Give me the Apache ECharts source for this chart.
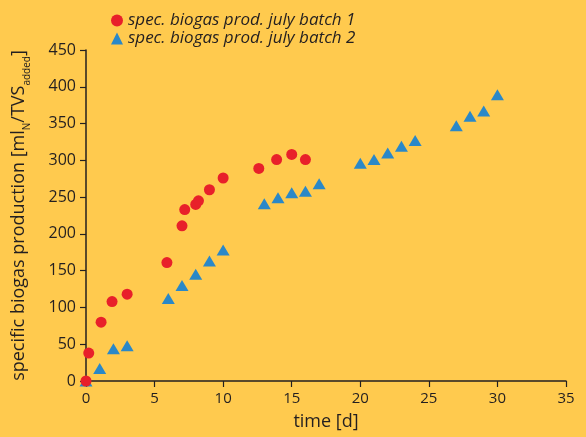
<!DOCTYPE html>
<html><head><meta charset="utf-8">
<script src="https://cdn.jsdelivr.net/npm/echarts@6/dist/echarts.min.js"></script>
<style>html,body{margin:0;padding:0;background:#FFCA4E;}#c{width:586px;height:437px;}</style>
</head><body><div id="c"></div>
<script>
const seriesNames = ['spec. biogas prod. july batch 1', 'spec. biogas prod. july batch 2'];
const batch1X = [0, 0.2, 1.1, 1.9, 3, 5.9, 7, 7.2, 8, 8.2, 9, 10, 12.6, 13.9, 15, 16];
const batch1Y = [0, 38, 80, 108, 118, 161, 211, 233, 240, 245, 260, 276, 289, 301, 308, 301];
const batch2X = [0, 1, 2, 3, 6, 7, 8, 9, 10, 13, 14, 15, 16, 17, 20, 21, 22, 23, 24, 27, 28, 29, 30];
const batch2Y = [0, 17, 44, 48, 112, 130, 145, 163, 178, 241, 249, 256, 258, 268, 296, 301, 310, 319, 327, 347, 360, 367, 389];
const xTicks = [0, 5, 10, 15, 20, 25, 30, 35];
const yTicks = [0, 50, 100, 150, 200, 250, 300, 350, 400, 450];

const ink = '#231F20';
const font = 'Open Sans';
const chart = echarts.init(document.getElementById('c'));
chart.setOption({
  backgroundColor: '#FFCA4E',
  animation: false,
  textStyle: { fontFamily: font, color: ink },
  grid: { left: 86, right: 20, top: 50, bottom: 56 },
  legend: {
    orient: 'vertical', left: 106, top: 7, itemGap: 1, itemWidth: 12, itemHeight: 12,
    textStyle: { fontFamily: font, fontStyle: 'italic', fontSize: 17, color: ink },
    data: [
      { name: seriesNames[0], icon: 'circle' },
      { name: seriesNames[1], icon: 'triangle' }
    ]
  },
  xAxis: {
    type: 'value', min: xTicks[0], max: xTicks[xTicks.length - 1], interval: 5,
    name: 'time [d]', nameLocation: 'middle', nameGap: 32,
    nameTextStyle: { fontSize: 18, color: ink, fontFamily: font },
    axisLine: { onZero: false, lineStyle: { color: ink, width: 1.5 } },
    axisTick: { show: true, inside: false, length: 6, lineStyle: { color: ink, width: 1.2 } },
    axisLabel: { fontSize: 15, color: ink, margin: 10, fontFamily: font },
    splitLine: { show: false }
  },
  yAxis: {
    type: 'value', min: yTicks[0], max: yTicks[yTicks.length - 1], interval: 50,
    name: '{m|specific biogas production [ml}{s|N}{m|/TVS}{s|added}{m|]}',
    nameLocation: 'middle', nameGap: 58, nameRotate: 90,
    nameTextStyle: {
      color: ink, fontFamily: font,
      rich: {
        m: { fontSize: 18, color: ink, fontFamily: font, lineHeight: 22, verticalAlign: 'bottom' },
        s: { fontSize: 10, color: ink, fontFamily: font, lineHeight: 22, verticalAlign: 'bottom', padding: [0, 0, -4, 0] }
      }
    },
    axisLine: { show: true, onZero: false, lineStyle: { color: ink, width: 1.5 } },
    axisTick: { show: true, inside: false, length: 6, lineStyle: { color: ink, width: 1.2 } },
    axisLabel: { fontSize: 16, color: ink, margin: 10, fontFamily: font },
    splitLine: { show: false }
  },
  series: [
    {
      name: seriesNames[1], type: 'scatter', symbol: 'triangle', symbolSize: [13, 11],
      itemStyle: { color: '#2A88C8', opacity: 1 },
      data: batch2X.map((x, i) => [x, batch2Y[i]]), z: 2
    },
    {
      name: seriesNames[0], type: 'scatter', symbol: 'circle', symbolSize: 11,
      itemStyle: { color: '#E8202A', opacity: 1 },
      data: batch1X.map((x, i) => [x, batch1Y[i]]), z: 3
    }
  ]
});
</script></body></html>
